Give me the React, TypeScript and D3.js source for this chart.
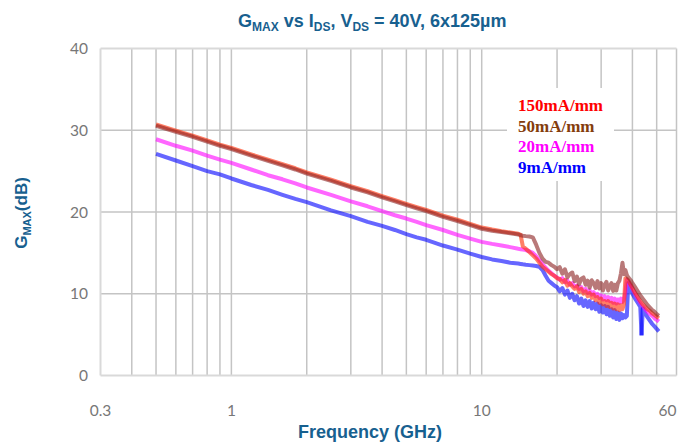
import React from 'react';
import * as d3 from 'd3';

// Frequency points (GHz) shared by all series
const freqGHz = [
  0.5, 0.6, 0.7, 0.8, 0.9, 1, 1.2, 1.4, 1.6, 1.8, 2, 2.5, 3, 3.5, 4, 4.5, 5, 5.5, 6, 7, 8, 9, 10, 11, 12, 13, 14,
  14.3, 14.6, 15, 15.5, 16, 16.5, 17, 17.5, 18, 18.5, 19, 19.5, 20,
  20.5, 21, 21.5, 22, 22.5, 23, 23.5, 24, 24.5, 25, 25.5, 26, 26.5, 27, 27.5, 28, 28.5, 29, 29.5, 30, 30.5, 31, 31.5, 32, 32.5, 33, 33.5, 34, 34.5, 35, 35.5, 36,
  36.5, 37, 37.5, 38, 38.5, 39, 39.5, 40,
  41, 42, 43, 43.5, 44, 45, 46, 47, 48, 49, 50, 51,
];

const gmax150 = [
  30.7, 29.95, 29.35, 28.75, 28.25, 27.85, 27.05, 26.4, 25.85, 25.35, 24.85, 23.95, 23.15, 22.55, 21.95, 21.45, 21.0, 20.6, 20.25, 19.55, 19.05, 18.55, 18.1, 17.85, 17.65, 17.5, 17.35,
  17.2, 15.8, 15.5, 15.1, 14.7, 14.3, 13.8, 13.3, 13.0, 12.7, 12.4, 12.2, 11.9,
  11.8, 11.4, 11.7, 11.0, 11.3, 10.9, 10.6, 10.9, 10.2, 10.6, 10.0, 10.3, 9.7, 10.1, 9.5, 9.9, 9.2, 9.6, 8.9, 9.4, 8.7, 9.1, 8.5, 9.1, 8.4, 8.9, 8.2, 8.8, 8.1, 8.7, 8.0, 8.6,
  8.1, 8.7, 11.9, 11.8, 11.6, 11.3, 11.0, 10.7,
  10.1, 9.6, 9.1, 8.9, 8.7, 8.4, 8.1, 7.9, 7.6, 7.4, 7.2, 7.0,
];

const gmax50 = [
  30.55, 29.8, 29.2, 28.6, 28.1, 27.7, 26.9, 26.25, 25.7, 25.2, 24.7, 23.8, 23.0, 22.4, 21.8, 21.3, 20.85, 20.45, 20.1, 19.4, 18.9, 18.4, 17.95, 17.7, 17.55, 17.4, 17.25,
  17.15, 17.1, 17.05, 17.0, 16.9, 16.0, 15.0, 14.3, 13.9, 13.8, 13.5, 13.3, 13.0,
  13.25, 12.45, 13.0, 12.0, 12.4, 12.6, 11.55, 12.1, 11.15, 11.85, 12.0, 11.1, 11.6, 10.75, 11.65, 11.3, 10.7, 11.55, 10.65, 11.3, 10.4, 11.1, 11.45, 10.4, 10.95, 11.3, 10.35, 11.1, 10.4, 11.3, 11.6, 12.5,
  13.8, 12.4, 12.9, 12.3, 12.0, 11.8, 11.6, 11.3,
  10.8, 10.3, 9.8, 9.6, 9.4, 9.0, 8.6, 8.3, 8.0, 7.8, 7.5, 7.3,
];

const gmax20 = [
  28.9, 28.1, 27.5, 26.9, 26.4, 26.0, 25.2, 24.5, 24.0, 23.5, 23.0, 22.1, 21.3, 20.7, 20.1, 19.6, 19.2, 18.8, 18.4, 17.8, 17.2, 16.75, 16.35, 16.1, 15.9, 15.7, 15.5,
  15.45, 15.4, 15.35, 15.2, 15.0, 14.6, 14.1, 13.6, 13.2, 12.8, 12.5, 12.2, 12.0,
  11.7, 11.9, 11.4, 11.6, 11.1, 11.3, 10.9, 11.0, 10.6, 10.8, 10.3, 10.6, 10.1, 10.4, 9.9, 10.2, 9.7, 10.0, 9.5, 9.8, 9.3, 9.7, 9.2, 9.6, 9.1, 9.5, 8.9, 9.4, 8.8, 9.3, 8.9, 9.4,
  9.0, 9.3, 10.2, 11.7, 11.5, 11.2, 10.9, 10.6,
  10.0, 9.4, 8.9, 8.7, 8.5, 8.1, 7.8, 7.5, 7.3, 7.0, 6.8, 6.6,
];

const gmax9 = [
  27.1, 26.3, 25.6, 25.0, 24.6, 24.1, 23.3, 22.7, 22.1, 21.6, 21.2, 20.2, 19.5, 18.8, 18.3, 17.8, 17.3, 16.9, 16.6, 15.9, 15.4, 14.9, 14.5, 14.2, 14.0, 13.8, 13.7,
  13.65, 13.6, 13.55, 13.5, 13.45, 13.4, 13.3, 12.9, 12.2, 11.6, 11.3, 11.0, 10.8,
  10.3, 10.7, 9.9, 10.4, 9.5, 10.0, 9.2, 9.7, 8.8, 9.4, 8.5, 9.2, 8.4, 9.1, 8.2, 8.9, 8.1, 8.8, 7.8, 8.6, 7.7, 8.5, 7.5, 8.4, 7.3, 8.1, 7.1, 8.0, 6.9, 7.7, 6.8, 7.6,
  7.0, 7.4, 7.1, 7.3, 11.3, 11.0, 10.4, 10.0,
  9.4, 8.9, 8.4, 4.9, 8.2, 7.6, 7.1, 6.7, 6.3, 6.0, 5.7, 5.4,
];

const seriesNames = ['150mA/mm', '50mA/mm', '20mA/mm', '9mA/mm'];
const legendColors = ['#ff0000', '#843c0c', '#ff00ff', '#0000ff'];
const lineColors = ['#ff2a00', '#8b1f1f', '#ff00ff', '#0000ff'];
const seriesValues = [gmax150, gmax50, gmax20, gmax9];
const drawOrder = [3, 2, 0, 1];

const yTicks = [0, 10, 20, 30, 40];
const yGrid = [10, 20, 30];
const xTickLabels = [0.3, 1, 10, 60];
const xGrid = [0.4, 0.5, 0.6, 0.7, 0.8, 0.9, 1, 2, 3, 4, 5, 6, 7, 8, 9, 10, 20, 30, 40, 50, 60];

const W = 684;
const H = 442;
const M = { left: 100.5, right: 676.5, top: 48.5, bottom: 375.5 };

function splitRuns(pts: [number, number][]) {
  const runs: [number, number][][] = [];
  let cur: [number, number][] = [pts[0]];
  for (let i = 1; i < pts.length; i++) {
    cur.push(pts[i]);
    if (i < pts.length - 1) {
      const d1 = pts[i][1] - pts[i - 1][1];
      const d2 = pts[i + 1][1] - pts[i][1];
      if (Math.abs(d1) > 2 && Math.abs(d2) > 2 && d1 * d2 < 0) {
        runs.push(cur);
        cur = [pts[i]];
      }
    }
  }
  runs.push(cur);
  return runs;
}

export default function App() {
  const x = d3.scaleLog().domain([0.3, 60]).range([M.left, M.right]);
  const y = d3.scaleLinear().domain([0, 40]).range([M.bottom, M.top]);
  const line = d3
    .line<[number, number]>()
    .x((d) => x(d[0]))
    .y((d) => y(d[1]));

  const titleColor = '#17608f';
  const tickColor = '#777777';

  return (
    <svg width={W} height={H} style={{ position: 'absolute', left: 0, top: 0, background: '#fff' }}>
      <rect x={0} y={0} width={W} height={H} fill="#fff" />
      {xGrid.map((f) => (
        <line key={'vx' + f} x1={x(f)} x2={x(f)} y1={M.top} y2={M.bottom} stroke="#c4c4c4" strokeWidth={1.5} />
      ))}
      {yGrid.map((v) => (
        <line key={'hy' + v} x1={M.left} x2={M.right} y1={y(v)} y2={y(v)} stroke="#c4c4c4" strokeWidth={1.5} />
      ))}
      <line x1={M.left} x2={M.right} y1={M.top} y2={M.top} stroke="#d9d9d9" strokeWidth={2} />
      <line x1={M.left} x2={M.left} y1={M.top} y2={M.bottom} stroke="#d9d9d9" strokeWidth={2} />
      <line x1={M.left} x2={M.right} y1={M.bottom} y2={M.bottom} stroke="#d9d9d9" strokeWidth={2} />

      {yTicks.map((v) => (
        <text key={'yt' + v} x={88} y={y(v) + 5.5} textAnchor="end" fontFamily="Lato, 'Open Sans', sans-serif" fontSize={15.5} fill={tickColor}>
          {v}
        </text>
      ))}
      {xTickLabels.map((f) => (
        <text
          key={'xt' + f}
          x={f === 60 ? x(f) - 9 : x(f)}
          y={416}
          textAnchor="middle"
          fontFamily="Lato, 'Open Sans', sans-serif"
          fontSize={15.5}
          fill={tickColor}
        >
          {f}
        </text>
      ))}

      {drawOrder.map((si) => {
        const pts: [number, number][] = freqGHz.map((f, i) => [f, seriesValues[si][i]]);
        const runs = splitRuns(pts);
        return (
          <g key={'s' + si}>
            {runs.map((r, k) => (
              <path
                key={k}
                d={line(r) || ''}
                fill="none"
                stroke={lineColors[si]}
                strokeOpacity={0.6}
                strokeWidth={4}
                strokeLinejoin="round"
                strokeLinecap="butt"
              />
            ))}
          </g>
        );
      })}

      <rect x={507} y={88} width={107} height={93} fill="#fff" />
      {seriesNames.map((n, i) => (
        <text
          key={n}
          x={518}
          y={111 + i * 20.7}
          fontFamily="'Liberation Serif', 'Times New Roman', serif"
          fontWeight="bold"
          fontSize={17}
          fill={legendColors[i]}
        >
          {n}
        </text>
      ))}

      <text x={238} y={27} fontFamily="'Liberation Sans', Arial, sans-serif" fontWeight="bold" fontSize={18} fill={titleColor}>
        G<tspan fontSize={12} dy={4}>MAX</tspan>
        <tspan dy={-4}> vs I</tspan>
        <tspan fontSize={12} dy={4}>DS</tspan>
        <tspan dy={-4}>, V</tspan>
        <tspan fontSize={12} dy={4}>DS</tspan>
        <tspan dy={-4}> = 40V, 6x125µm</tspan>
      </text>

      <text
        transform="translate(27,213) rotate(-90)"
        textAnchor="middle"
        fontFamily="'Liberation Sans', Arial, sans-serif"
        fontWeight="bold"
        fontSize={17}
        fill={titleColor}
      >
        G<tspan fontSize={11} dy={4}>MAX</tspan>
        <tspan dy={-4}>(dB)</tspan>
      </text>

      <text x={370} y={438} textAnchor="middle" fontFamily="'Liberation Sans', Arial, sans-serif" fontWeight="bold" fontSize={18} fill={titleColor}>
        Frequency (GHz)
      </text>
    </svg>
  );
}
